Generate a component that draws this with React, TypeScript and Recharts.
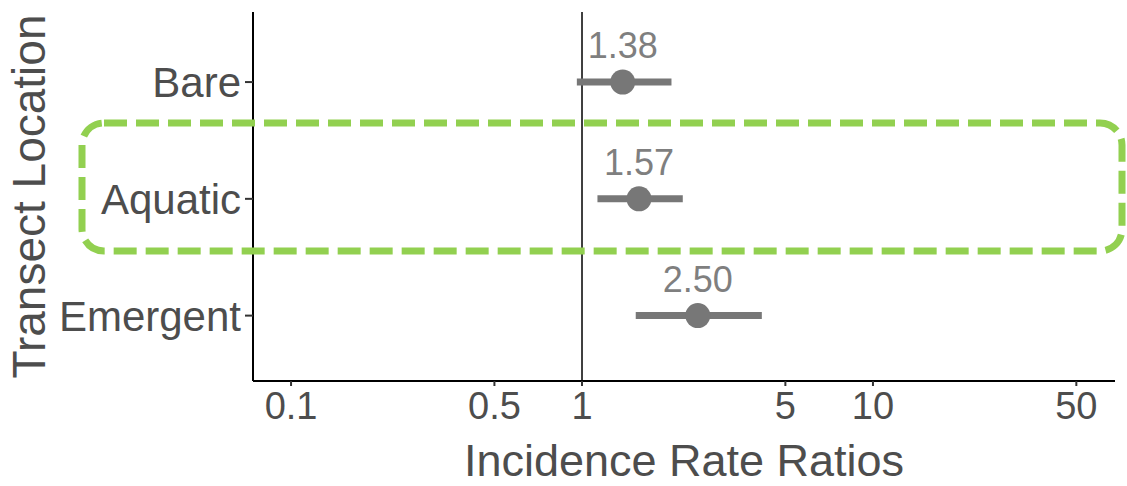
import React from 'react';
import {
  ScatterChart,
  Scatter,
  XAxis,
  YAxis,
  ErrorBar,
  LabelList,
  ReferenceLine,
  Label,
} from 'recharts';

const categories = ['Bare', 'Aquatic', 'Emergent'];
const irr = [1.38, 1.57, 2.5];
const ciLow = [0.96, 1.13, 1.53];
const ciHigh = [2.03, 2.22, 4.15];
const xTicks = [0.1, 0.5, 1, 5, 10, 50];

const data = categories.map((name, i) => ({
  name,
  pos: categories.length - i,
  irr: irr[i],
  err: [irr[i] - ciLow[i], ciHigh[i] - irr[i]],
}));

const FONT = '"Liberation Sans", Arial, sans-serif';
const GREY = '#777777';
const TEXT = '#4d4d4d';

const Dot = (p: any) => <circle cx={p.cx} cy={p.cy} r={12.5} fill={GREY} />;

export default function App() {
  return (
    <div style={{ position: 'absolute', left: 0, top: 0, width: 1127, height: 486, background: '#fff' }}>
      <ScatterChart width={1127} height={486} margin={{ top: 12, right: 12, bottom: 0, left: 0 }}>
        <XAxis
          type="number"
          dataKey="irr"
          scale="log"
          domain={[0.074, 67.9]}
          allowDataOverflow
          ticks={xTicks}
          tickFormatter={(v) => String(v)}
          height={105}
          axisLine={{ stroke: '#000', strokeWidth: 2 }}
          tickLine={{ stroke: '#333', strokeWidth: 2 }}
          tickSize={5}
          tickMargin={6}
          tick={{ fill: TEXT, fontSize: 38, fontFamily: FONT }}
        >
          <Label
            content={({ viewBox }: any) => (
              <text
                x={viewBox.x + viewBox.width / 2}
                y={476}
                textAnchor="middle"
                fill={TEXT}
                fontSize={45}
                fontFamily={FONT}
              >
                Incidence Rate Ratios
              </text>
            )}
          />
        </XAxis>
        <YAxis
          type="number"
          dataKey="pos"
          domain={[0.44, 3.6]}
          allowDataOverflow
          ticks={[1, 2, 3]}
          tickFormatter={(v) => categories[categories.length - v]}
          width={253}
          axisLine={{ stroke: '#000', strokeWidth: 2 }}
          tickLine={{ stroke: '#333', strokeWidth: 2 }}
          tickSize={8}
          tickMargin={4}
          tick={{ fill: TEXT, fontSize: 42, fontFamily: FONT }}
        >
          <Label
            content={({ viewBox }: any) => {
              const cy = viewBox.y + viewBox.height / 2;
              return (
                <text
                  x={45}
                  y={cy}
                  transform={`rotate(-90, 45, ${cy})`}
                  textAnchor="middle"
                  fill={TEXT}
                  fontSize={46}
                  fontFamily={FONT}
                >
                  Transect Location
                </text>
              );
            }}
          />
        </YAxis>
        <ReferenceLine x={1} stroke="#000" strokeWidth={1.5} />
        <Scatter data={data} fill={GREY} shape={Dot} isAnimationActive={false}>
          <ErrorBar dataKey="err" direction="x" width={0} strokeWidth={7} stroke={GREY} />
          <LabelList
            dataKey="irr"
            position="top"
            offset={19.5}
            formatter={(v: any) => Number(v).toFixed(2)}
            fill="#7f7f7f"
            fontSize={36}
            fontFamily={FONT}
          />
        </Scatter>
      </ScatterChart>
      <svg
        width={1127}
        height={486}
        style={{ position: 'absolute', left: 0, top: 0, pointerEvents: 'none' }}
      >
        <rect
          x={82}
          y={123}
          width={1040}
          height={128}
          rx={22}
          ry={22}
          fill="none"
          stroke="#92d050"
          strokeWidth={7}
          strokeDasharray="23 9"
        />
      </svg>
    </div>
  );
}
